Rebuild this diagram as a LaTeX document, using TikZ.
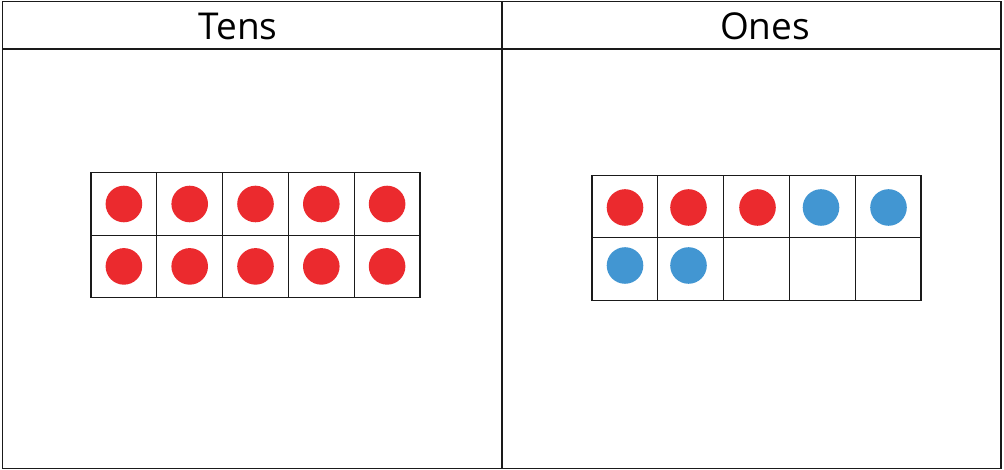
\documentclass[tikz,border=0pt]{standalone}
\usepackage{fontspec}
\setmainfont{Open Sans}
\definecolor{dotred}{HTML}{EB2A2E}
\definecolor{dotblue}{HTML}{4296D2}
\definecolor{gridline}{HTML}{1A1A1A}
\begin{document}
\begin{tikzpicture}[x=1pt,y=-1pt,
  frame/.style={draw=gridline,line width=1.3pt},
  cellbox/.style={draw=gridline,line width=1.1pt,rectangle,minimum width=65.8pt,minimum height=62.4pt,inner sep=0pt,outer sep=0pt},
  reddot/.style={circle,fill=dotred,minimum size=36.6pt,inner sep=0pt},
  bluedot/.style={circle,fill=dotblue,minimum size=36.6pt,inner sep=0pt},
  headtxt/.style={font=\fontsize{37}{40}\selectfont,inner sep=0pt,anchor=base}]
\useasboundingbox (0,0) rectangle (1004,470);
% outer frame and header
\draw[frame] (2.5,1.5) rectangle (1001,468.5);
\draw[frame] (2.5,49) -- (1001,49);
\draw[frame] (502,1.5) -- (502,468.5);
\node[headtxt] (tens) at (238,40) {Tens};
\node[headtxt] (ones) at (765,40) {Ones};
% tens frame
\foreach \c in {0,...,4}{
  \foreach \r in {0,1}{
    \node[cellbox] (t\r\c) at ({91+32.9+65.8*\c},{172.8+31.2+62.4*\r}) {};
    \node[reddot] (td\r\c) at (t\r\c.center) {};
  }
}
% ones frame
\foreach \c in {0,...,4}{
  \foreach \r in {0,1}{
    \node[cellbox] (o\r\c) at ({592+32.9+65.8*\c},{175.5+31.2+62.4*\r}) {};
  }
}
\node[reddot] (od00) at (625,207.5) {};
\node[reddot] (od01) at (688.5,207.5) {};
\node[reddot] (od02) at (757.5,207.5) {};
\node[bluedot] (od03) at (821,207.5) {};
\node[bluedot] (od04) at (888.5,207.5) {};
\node[bluedot] (od10) at (625,265.5) {};
\node[bluedot] (od11) at (688.5,265.5) {};
\end{tikzpicture}
\end{document}
